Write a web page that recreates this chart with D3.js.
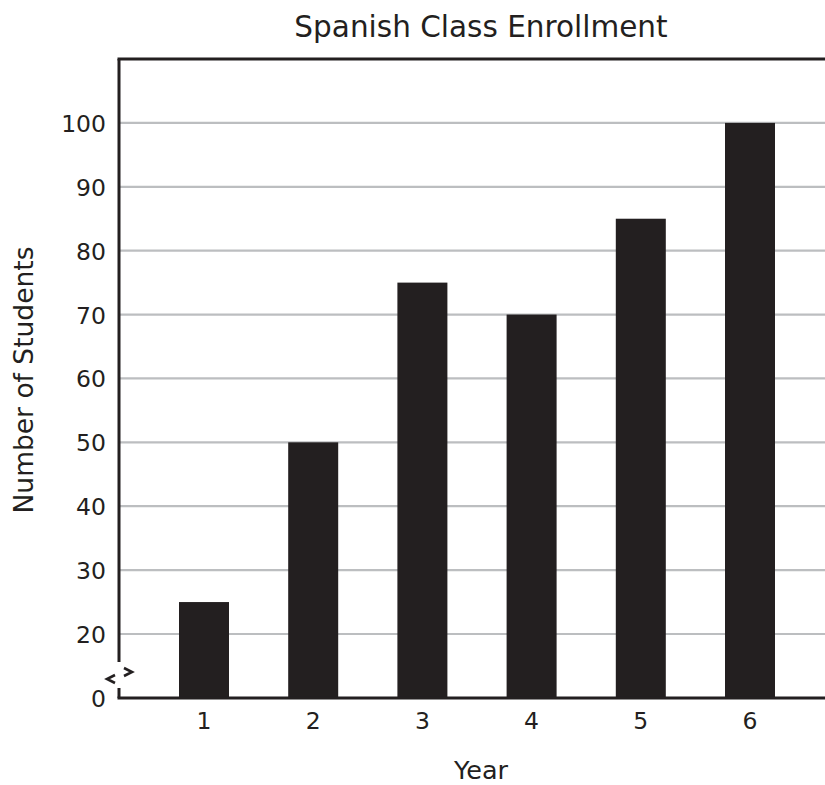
<!DOCTYPE html>
<html>
<head>
<meta charset="utf-8">
<script src="https://cdn.jsdelivr.net/npm/d3@7"></script>
<style>
  html, body { margin: 0; padding: 0; background: #ffffff; }
  svg { display: block; }
  text { font-family: "DejaVu Sans", Verdana, sans-serif; fill: #231f20; }
</style>
</head>
<body>
<script>
const years = ["1", "2", "3", "4", "5", "6"];
const students = [25, 50, 75, 70, 85, 100];
const yTicks = [0, 20, 30, 40, 50, 60, 70, 80, 90, 100];
const title = "Spanish Class Enrollment";
const xTitle = "Year";
const yTitle = "Number of Students";

const W = 825, H = 785;
const ink = "#231f20", grid = "#bcbec0";

const svg = d3.select("body").append("svg").attr("width", W).attr("height", H);

// broken axis: 0 sits where 10 would be
const y = d3.scaleLinear().domain([0, 20, 110]).range([698, 634, 59]);
const x = d3.scalePoint().domain(years).range([204, 750]);
const barW = 50;
const axisX = 119, rightX = 825;

// gridlines
svg.append("g").selectAll("line").data(yTicks.filter(d => d > 0)).join("line")
  .attr("x1", axisX).attr("x2", rightX)
  .attr("y1", d => y(d)).attr("y2", d => y(d))
  .attr("stroke", grid).attr("stroke-width", 2.2);

// bars
svg.append("g").selectAll("rect").data(students).join("rect")
  .attr("x", (d, i) => x(years[i]) - barW / 2)
  .attr("width", barW)
  .attr("y", d => y(d))
  .attr("height", d => y(0) - y(d))
  .attr("fill", ink);

// top border
svg.append("line").attr("x1", axisX - 1.5).attr("x2", rightX)
  .attr("y1", y(110)).attr("y2", y(110))
  .attr("stroke", ink).attr("stroke-width", 3);
// bottom axis
svg.append("line").attr("x1", axisX - 1.5).attr("x2", rightX)
  .attr("y1", y(0)).attr("y2", y(0))
  .attr("stroke", ink).attr("stroke-width", 3);
// left axis with break
svg.append("line").attr("x1", axisX).attr("x2", axisX)
  .attr("y1", y(110)).attr("y2", 662)
  .attr("stroke", ink).attr("stroke-width", 3);
svg.append("line").attr("x1", axisX).attr("x2", axisX)
  .attr("y1", 688).attr("y2", y(0))
  .attr("stroke", ink).attr("stroke-width", 3);
// break marks
svg.append("path").attr("d", "M115,675 L107,679 L115,683")
  .attr("fill", "none").attr("stroke", ink).attr("stroke-width", 2.6);
svg.append("path").attr("d", "M124,668 L132,672 L124,676")
  .attr("fill", "none").attr("stroke", ink).attr("stroke-width", 2.6);

// y tick labels
svg.append("g").selectAll("text").data(yTicks).join("text")
  .attr("x", 106).attr("y", d => y(d) + 9)
  .attr("text-anchor", "end").attr("font-size", 23.5)
  .text(d => d);

// x tick labels
svg.append("g").selectAll("text").data(years).join("text")
  .attr("x", d => x(d)).attr("y", 729)
  .attr("text-anchor", "middle").attr("font-size", 23.5)
  .text(d => d);

// titles
svg.append("text").attr("x", 481).attr("y", 37)
  .attr("text-anchor", "middle").attr("font-size", 29.5).text(title);
svg.append("text").attr("x", 481).attr("y", 779)
  .attr("text-anchor", "middle").attr("font-size", 25.5).text(xTitle);
svg.append("text").attr("transform", "translate(33,380) rotate(-90)")
  .attr("text-anchor", "middle").attr("font-size", 26.5).text(yTitle);
</script>
</body>
</html>
